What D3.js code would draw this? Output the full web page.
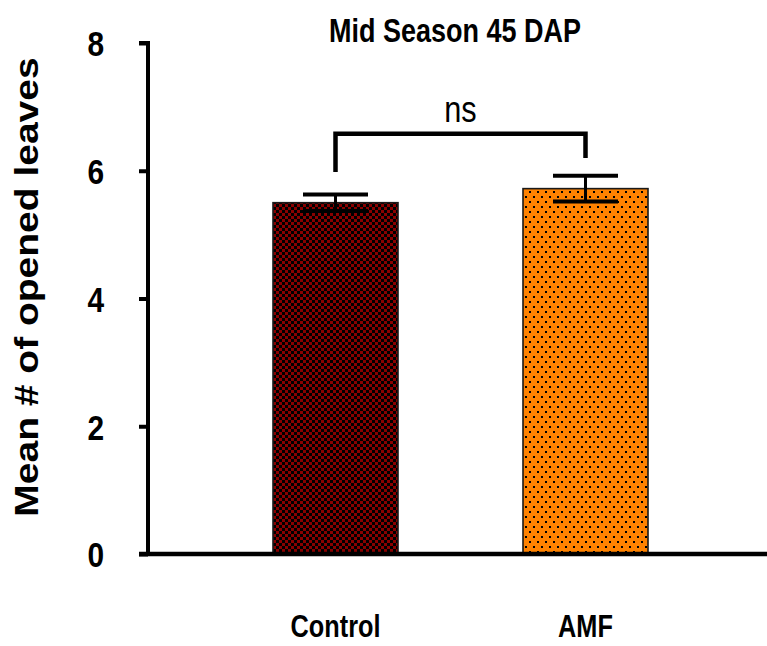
<!DOCTYPE html>
<html>
<head>
<meta charset="utf-8">
<script src="https://cdn.jsdelivr.net/npm/d3@7/dist/d3.min.js"></script>
<style>
  html, body { margin: 0; padding: 0; background: #fff; }
  svg { display: block; }
  text { font-family: "Liberation Sans", Arial, Helvetica, sans-serif; }
</style>
</head>
<body>
<svg id="chart" width="767" height="646"></svg>
<script>
// Chart data
const categories = ["Control", "AMF"];
const means = [5.5, 5.72];
const errors = [0.13, 0.2];
const yTicks = [0, 2, 4, 6, 8];
const titleText = "Mid Season 45 DAP";
const yLabel = "Mean # of opened leaves";
const sigLabel = "ns";
// significance bracket: top level and the level each leg drops to
const bracketTop = 6.58;
const bracketLegs = [5.98, 6.2];

// Horizontal squeeze applied to text glyphs
const SX = 0.83;

const svg = d3.select("#chart");
const W = 767, H = 646;

const x = d3.scaleBand().domain(categories).range([148, 773]).paddingInner(0.5).paddingOuter(0.5);
const y = d3.scaleLinear().domain([0, 8]).range([554, 43]);

// Fill patterns
const defs = svg.append("defs");
const checker = defs.append("pattern")
  .attr("id", "checker").attr("patternUnits", "userSpaceOnUse")
  .attr("width", 6).attr("height", 6);
checker.append("rect").attr("width", 6).attr("height", 6).attr("fill", "#8a0000");
checker.append("rect").attr("x", 0).attr("y", 0).attr("width", 3).attr("height", 3).attr("fill", "#000");
checker.append("rect").attr("x", 3).attr("y", 3).attr("width", 3).attr("height", 3).attr("fill", "#000");

const dots = defs.append("pattern")
  .attr("id", "dots").attr("patternUnits", "userSpaceOnUse")
  .attr("width", 8).attr("height", 10);
dots.append("rect").attr("width", 8).attr("height", 10).attr("fill", "#ff8200");
dots.append("rect").attr("x", 1).attr("y", 1).attr("width", 2).attr("height", 2).attr("fill", "#000");
dots.append("rect").attr("x", 5).attr("y", 6).attr("width", 2).attr("height", 2).attr("fill", "#000");

const fills = ["url(#checker)", "url(#dots)"];

// Bars
svg.append("g").selectAll("rect")
  .data(categories)
  .join("rect")
  .attr("x", d => x(d))
  .attr("y", (d, i) => y(means[i]))
  .attr("width", x.bandwidth())
  .attr("height", (d, i) => y(0) - y(means[i]))
  .attr("fill", (d, i) => fills[i])
  .attr("stroke", "#1a1a1a")
  .attr("stroke-width", 1.6);

// Error bars
const capW = 65;
const eg = svg.append("g").attr("stroke", "#000").attr("fill", "none");
categories.forEach((c, i) => {
  const cx = x(c) + x.bandwidth() / 2;
  const hi = y(means[i] + errors[i]);
  const lo = y(means[i] - errors[i]);
  eg.append("line").attr("x1", cx).attr("x2", cx).attr("y1", hi).attr("y2", lo).attr("stroke-width", 3);
  eg.append("line").attr("x1", cx - capW / 2).attr("x2", cx + capW / 2).attr("y1", hi).attr("y2", hi).attr("stroke-width", 4);
  eg.append("line").attr("x1", cx - capW / 2).attr("x2", cx + capW / 2).attr("y1", lo).attr("y2", lo).attr("stroke-width", 4);
});

// Significance bracket
const bx = categories.map(c => x(c) + x.bandwidth() / 2);
svg.append("path")
  .attr("d", `M${bx[0]},${y(bracketLegs[0])}V${y(bracketTop)}H${bx[1]}V${y(bracketLegs[1])}`)
  .attr("fill", "none").attr("stroke", "#000").attr("stroke-width", 4.5)
  .attr("stroke-linejoin", "miter");

svg.append("text")
  .attr("transform", `translate(${(bx[0] + bx[1]) / 2},${y(bracketTop) - 12}) scale(${SX},1)`)
  .attr("text-anchor", "middle")
  .attr("font-size", 37)
  .text(sigLabel);

// Y axis
const yAxis = d3.axisLeft(y).tickValues(yTicks).tickSize(9).tickPadding(10).tickFormat(d3.format("d"));
const ya = svg.append("g").attr("transform", "translate(148,0)").call(yAxis);
ya.select(".domain").attr("stroke", "#000").attr("stroke-width", 4)
  .attr("d", `M-9,${y(8)}H0V${y(0)}`);
ya.selectAll(".tick line").attr("stroke", "#000").attr("stroke-width", 4);
ya.selectAll(".tick text")
  .attr("font-size", 36).attr("font-weight", "bold").attr("fill", "#000")
  .attr("font-family", "'Liberation Sans', Arial, sans-serif")
  .attr("dy", "0.36em")
  .attr("x", null)
  .attr("transform", `translate(-44,0) scale(${SX},1)`);

// X axis baseline
svg.append("line")
  .attr("x1", 139).attr("x2", W)
  .attr("y1", y(0)).attr("y2", y(0))
  .attr("stroke", "#000").attr("stroke-width", 4.5);

// Category labels
svg.append("g").selectAll("text")
  .data(categories)
  .join("text")
  .attr("transform", d => `translate(${x(d) + x.bandwidth() / 2},637) scale(${SX},1)`)
  .attr("text-anchor", "middle")
  .attr("font-size", 30.5)
  .attr("font-weight", "bold")
  .text(d => d);

// Title
svg.append("text")
  .attr("transform", `translate(455,42) scale(${SX},1)`)
  .attr("text-anchor", "middle")
  .attr("font-size", 32.5)
  .attr("font-weight", "bold")
  .text(titleText);

// Y-axis label
svg.append("text")
  .attr("transform", `translate(38,287) rotate(-90) scale(1,${SX})`)
  .attr("text-anchor", "middle")
  .attr("font-size", 39)
  .attr("font-weight", "bold")
  .text(yLabel);
</script>
</body>
</html>
